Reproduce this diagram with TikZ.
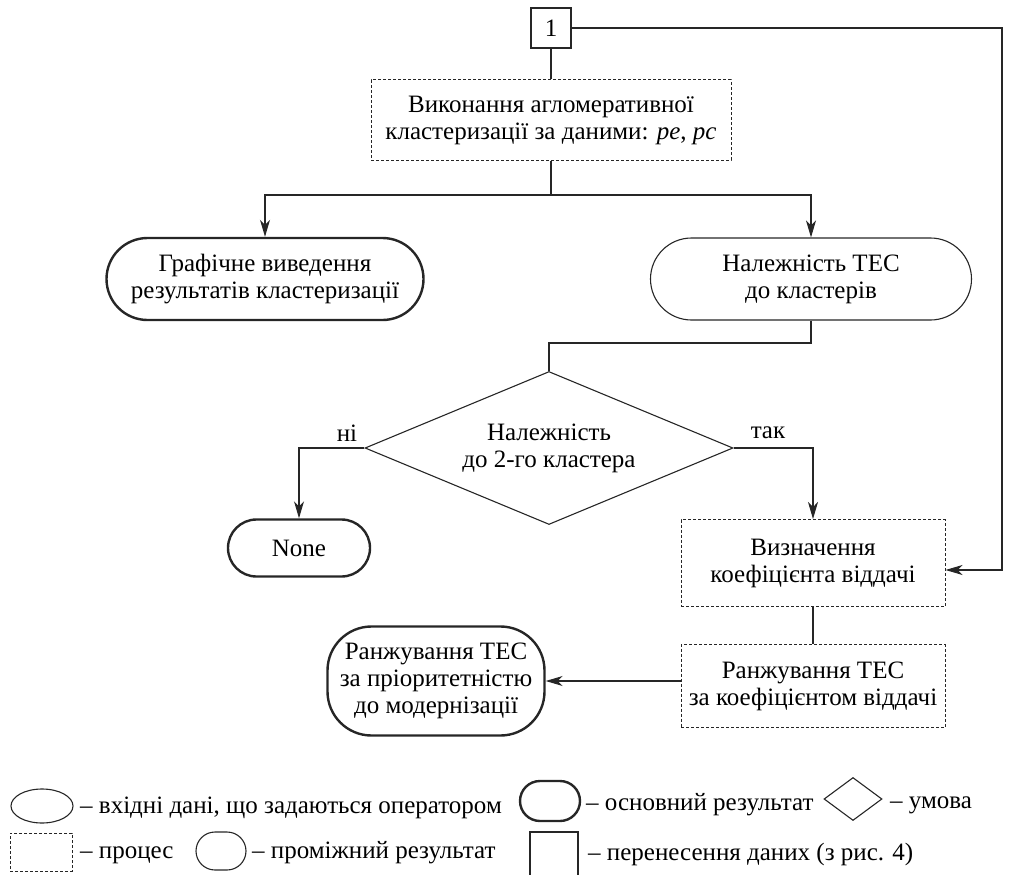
\documentclass[tikz,border=0pt]{standalone}
\usepackage{fontspec}
\setmainfont{Liberation Serif}
\usetikzlibrary{shapes.geometric,shapes.misc,arrows.meta}
\tikzset{
  base/.style={draw=black!85, line width=1.1pt, inner sep=0pt, align=center, font=\fontsize{25}{27}\selectfont},
  proc/.style={base, rectangle, dash pattern=on 3pt off 2pt, line width=1pt},
  inter/.style={base, rounded rectangle},
  mainres/.style={base, rounded rectangle, line width=2.4pt},
  mainbox/.style={base, rectangle, rounded corners=44pt, line width=2.4pt},
  cond/.style={base, diamond},
  transf/.style={base, rectangle},
  conn/.style={draw=black!85, line width=1.1pt},
  arr/.style={conn, -{Stealth[length=17pt,width=10pt,inset=5pt]}},
  lbl/.style={font=\fontsize{25}{27}\selectfont, inner sep=0pt},
  legtxt/.style={font=\fontsize{25}{27}\selectfont, inner sep=0pt, anchor=base west}
}
\begin{document}
\begin{tikzpicture}[x=1pt,y=-1pt]
\useasboundingbox (0,0) rectangle (1015,875);
% nodes
\node[transf, minimum width=40pt, minimum height=40pt] (one) at (551,28) {1};
\node[proc, minimum width=360pt, minimum height=80pt] (p1) at (551,120)
  {Виконання агломеративної\\кластеризації за даними: \textit{pe}, \textit{pc}};
\node[mainres, minimum width=317pt, minimum height=82pt] (r1) at (265,279)
  {Графічне виведення\\результатів кластеризації};
\node[inter, minimum width=321pt, minimum height=82pt] (i1) at (811,279)
  {Належність ТЕС\\до кластерів};
\node[cond, aspect=2.4, minimum width=368pt, minimum height=153pt] (c1) at (549,448)
  {Належність\\до 2-го кластера};
\node[mainres, minimum width=142pt, minimum height=57pt] (none) at (299,548) {None};
\node[proc, minimum width=264pt, minimum height=87pt] (vyz) at (813,563)
  {Визначення\\коефіцієнта віддачі};
\node[proc, minimum width=264pt, minimum height=83pt] (rank) at (813,686)
  {Ранжування ТЕС\\за коефіцієнтом віддачі};
\node[mainbox, minimum width=217pt, minimum height=109pt] (fin) at (436,681)
  {Ранжування ТЕС\\за пріоритетністю\\до модернізації};
% labels
\node[lbl] (ni) at (347,433) {ні};
\node[lbl] (tak) at (768,433) {так};
% connectors
\coordinate (rt) at (1002,28);
\draw[arr] (one.east) -- (rt) |- ([yshift=-7pt]vyz.east);
\draw[conn] (one.south) -- (p1.north);
\coordinate (split) at (551,195);
\draw[conn] (p1.south) -- (split);
\draw[arr] (split) -| (r1.north);
\draw[arr] (split) -| (i1.north);
\coordinate (mid) at (811,343);
\draw[conn] (i1.south) -- (mid) -| (c1.north);
\draw[arr] (c1.west) -| (none.north);
\draw[arr] (c1.east) -| (vyz.north);
\draw[conn] (vyz.south) -- (rank.north);
\draw[arr] (rank.west |- fin.east) -- (fin.east);
% legend
\node[base, ellipse, minimum width=62pt, minimum height=34pt] (lell) at (42,806) {};
\node[legtxt] (tell) at (80,813) {– вхідні дані, що задаються оператором};
\node[mainres, minimum width=60pt, minimum height=40pt] (lmain) at (550,801) {};
\node[legtxt] (tmain) at (586,810) {– основний результат};
\node[base, diamond, aspect=1.35, minimum width=58pt, minimum height=43pt] (ldiam) at (853,799) {};
\node[legtxt] (tdiam) at (890,808) {– умова};
\node[proc, minimum width=62pt, minimum height=38pt] (lproc) at (41,852) {};
\node[legtxt] (tproc) at (80,858) {– процес};
\node[inter, minimum width=50pt, minimum height=38pt] (linter) at (221,851) {};
\node[legtxt] (tinter) at (252,858) {– проміжний результат};
\node[transf, minimum width=48pt, minimum height=44pt] (lsq) at (554,854) {};
\node[legtxt] (tsq) at (588,860) {– перенесення даних (з рис. 4)};
\end{tikzpicture}
\end{document}
